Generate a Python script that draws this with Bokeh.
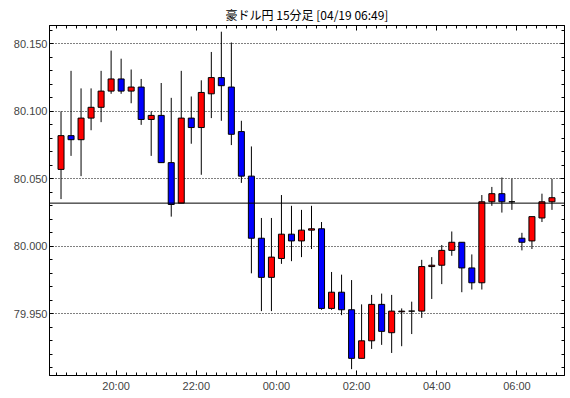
from bokeh.plotting import figure
from bokeh.models import (Range1d, FixedTicker, LinearAxis, Span, ColumnDataSource,
                          CustomJSTickFormatter, PrintfTickFormatter)
from bokeh.embed import file_html
from bokeh.resources import INLINE

# ---- data (15-minute candles, AUD/JPY) ----
start_time = "18:30"
open_ = [80.057, 80.082, 80.079, 80.095, 80.103, 80.115, 80.124, 80.115, 80.118, 80.094,
         80.097, 80.062, 80.032, 80.095, 80.088, 80.113, 80.125, 80.118, 80.085, 80.052,
         80.006, 79.977, 79.991, 80.009, 80.004, 80.012, 80.013, 79.954, 79.966, 79.953,
         79.917, 79.930, 79.957, 79.936, 79.9515, 79.952, 79.952, 79.985, 79.986, 79.997,
         80.003, 79.984, 79.973, 80.033, 80.039, 80.033, 80.006, 80.004, 80.021, 80.033]
high = [80.100, 80.130, 80.117, 80.117, 80.130, 80.145, 80.139, 80.131, 80.124, 80.100,
        80.121, 80.110, 80.130, 80.111, 80.123, 80.144, 80.159, 80.151, 80.093, 80.074,
        80.021, 80.021, 80.038, 80.030, 80.027, 80.030, 80.018, 79.981, 79.979, 79.975,
        79.957, 79.964, 79.965, 79.964, 79.954, 79.959, 79.990, 79.992, 80.001, 80.011,
        80.003, 79.994, 80.038, 80.044, 80.051, 80.050, 80.010, 80.022, 80.039, 80.050]
low = [80.035, 80.067, 80.052, 80.086, 80.092, 80.113, 80.113, 80.106, 80.090, 80.067,
       80.062, 80.022, 80.032, 80.076, 80.053, 80.095, 80.093, 80.075, 80.047, 79.980,
       79.952, 79.952, 79.987, 79.989, 79.992, 79.998, 79.953, 79.953, 79.949, 79.909,
       79.917, 79.924, 79.927, 79.921, 79.926, 79.935, 79.947, 79.961, 79.972, 79.993,
       79.966, 79.968, 79.968, 80.030, 80.025, 80.027, 79.997, 79.998, 80.018, 80.027]
close = [80.082, 80.079, 80.095, 80.103, 80.115, 80.124, 80.115, 80.118, 80.094, 80.097,
         80.062, 80.031, 80.095, 80.088, 80.114, 80.125, 80.119, 80.083, 80.052, 80.006,
         79.977, 79.992, 80.009, 80.004, 80.012, 80.013, 79.954, 79.966, 79.953, 79.917,
         79.930, 79.957, 79.937, 79.952, 79.952, 79.952, 79.985, 79.986, 79.997, 80.003,
         79.984, 79.973, 80.033, 80.039, 80.033, 80.033, 80.003, 80.022, 80.033, 80.036]
ref_price = 80.032
time_labels = ["20:00", "22:00", "00:00", "02:00", "04:00", "06:00"]
price_ticks = [79.95, 80.00, 80.05, 80.10, 80.15]
price_minor = [79.91, 79.92, 79.93, 79.94, 79.96, 79.97, 79.98, 79.99, 80.01, 80.02,
               80.03, 80.04, 80.06, 80.07, 80.08, 80.09, 80.11, 80.12, 80.13, 80.14, 80.16]
title_text = "豪ドル円 15分足 [04/19 06:49]"

# candle times
h0, m0 = map(int, start_time.split(":"))
times = []
for i in range(len(open_)):
    t = (h0 * 60 + m0 + 15 * i) % (24 * 60)
    times.append("%02d:%02d" % (t // 60, t % 60))

idx = list(range(len(open_)))
up = [c >= o for o, c in zip(open_, close)]
src = ColumnDataSource(dict(
    x=idx, high=high, low=low,
    top=[max(o, c) for o, c in zip(open_, close)],
    bottom=[min(o, c) for o, c in zip(open_, close)],
    color=["#FF0000" if u else "#0000FF" for u in up],
))

major_x = [times.index(t) - 0.5 for t in time_labels]
minor_x = [i - 0.5 for i in range(len(open_) + 1)]
overrides = {m: t for m, t in zip(major_x, time_labels)}

p = figure(width=568, height=396,
           x_range=Range1d(-1.15, 50.25), y_range=Range1d(79.9043, 80.1636),
           output_backend="svg", toolbar_location=None,
           min_border_left=49, min_border_right=4, min_border_top=25, min_border_bottom=21)
p.background_fill_color = "white"
p.border_fill_color = "white"
p.outline_line_color = "black"
p.outline_line_width = 1

p.title.text = title_text
p.title.align = "center"
p.title.text_font = "Noto Sans CJK JP"
p.title.text_font_size = "12px"
p.title.text_font_style = "normal"
p.title.text_color = "black"
p.title.standoff = 6

xt = FixedTicker(ticks=major_x, minor_ticks=minor_x)
yt = FixedTicker(ticks=price_ticks, minor_ticks=price_minor)

xa = p.xaxis[0]
xa.ticker = xt
xa.major_label_overrides = overrides
xa.major_tick_in = 5
xa.major_tick_out = 0
xa.minor_tick_in = 3
xa.minor_tick_out = 0
xa.major_label_standoff = 4
xa.major_label_text_font = "Liberation Sans"
xa.major_label_text_font_size = "11px"
xa.axis_line_color = "black"

ya = p.yaxis[0]
ya.ticker = yt
ya.formatter = PrintfTickFormatter(format="%.3f")
ya.major_tick_in = 4
ya.major_tick_out = 0
ya.minor_tick_in = 3
ya.minor_tick_out = 0
ya.major_label_standoff = 2
ya.major_label_text_font = "Liberation Sans"
ya.major_label_text_font_size = "11px"

blank = CustomJSTickFormatter(code="return ''")
xa_top = LinearAxis(ticker=xt, formatter=blank, major_tick_in=5, major_tick_out=0,
                    minor_tick_in=3, minor_tick_out=0, major_label_standoff=0,
                    major_label_text_font_size="1px")
p.add_layout(xa_top, "above")
ya_right = LinearAxis(ticker=yt, formatter=blank, major_tick_in=4, major_tick_out=0,
                      minor_tick_in=3, minor_tick_out=0, major_label_standoff=0,
                      major_label_text_font_size="1px")
p.add_layout(ya_right, "right")

p.xgrid.visible = False
p.ygrid.ticker = yt
p.ygrid.grid_line_color = "black"
p.ygrid.grid_line_dash = "1 2"
p.ygrid.grid_line_width = 1

p.add_layout(Span(location=ref_price, dimension="width", line_color="black", line_width=1))

p.segment(x0="x", x1="x", y0="low", y1="high", source=src, line_color="black", line_width=1)
p.vbar(x="x", width=0.6, top="top", bottom="bottom", source=src,
       fill_color="color", line_color="black", line_width=1)

open("out.html", "w").write(file_html(p, INLINE))
